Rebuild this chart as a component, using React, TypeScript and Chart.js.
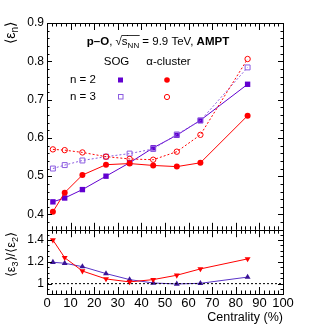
import React, { useEffect, useRef } from "react";
import { Chart, registerables } from "chart.js";
Chart.register(...registerables);

const centrality = [2.5, 7.5, 15, 25, 35, 45, 55, 65, 85];
const sogN2 = [0.433, 0.443, 0.465, 0.5, 0.535, 0.574, 0.607, 0.646, 0.74];
const sogN3 = [0.52, 0.529, 0.541, 0.551, 0.559, 0.571, 0.609, 0.645, 0.784];
const alphaN2 = [0.407, 0.457, 0.503, 0.53, 0.533, 0.528, 0.525, 0.535, 0.658];
const alphaN3 = [0.57, 0.568, 0.562, 0.551, 0.545, 0.543, 0.564, 0.608, 0.806];
const ratioSOG = [1.196, 1.187, 1.156, 1.092, 1.037, 1.006, 0.997, 1.003, 1.06];
const ratioAlpha = [1.4, 1.238, 1.116, 1.043, 1.016, 1.037, 1.077, 1.135, 1.227];
const unityLine = [0, 100];
const xTickValues = [0, 10, 20, 30, 40, 50, 60, 70, 80, 90, 100];
const topYTickValues = [0.4, 0.5, 0.6, 0.7, 0.8, 0.9];
const bottomYTickValues = [1, 1.2, 1.4];

const FAMILY = "'Liberation Sans', Arial, Helvetica, sans-serif";
const PURPLE = "#6200d0";
const PURPLE_OPEN = "#8c5ce0";
const RED = "#ff0000";
const NAVY = "#3a1496";
const NAVY_LINE = "#5a34c8";

type Seg = { t: string; size: number; bold?: boolean; dy?: number; overline?: boolean };

function drawRich(ctx: CanvasRenderingContext2D, segs: Seg[], x: number, y: number, align: "left" | "right" | "center") {
  const widths = segs.map((s) => {
    ctx.font = `${s.bold ? "bold " : ""}${s.size}px ${FAMILY}`;
    return ctx.measureText(s.t).width;
  });
  const total = widths.reduce((a, b) => a + b, 0);
  let cx = align === "left" ? x : align === "right" ? x - total : x - total / 2;
  ctx.textAlign = "left";
  segs.forEach((s, i) => {
    ctx.font = `${s.bold ? "bold " : ""}${s.size}px ${FAMILY}`;
    ctx.fillText(s.t, cx, y + (s.dy || 0));
    if (s.overline) {
      ctx.save();
      ctx.lineWidth = 0.8;
      ctx.beginPath();
      ctx.moveTo(cx - 0.5, y - 9.5);
      ctx.lineTo(cx + widths[i] + 0.5, y - 9.5);
      ctx.stroke();
      ctx.restore();
    }
    cx += widths[i];
  });
}

function drawTicks(chart: any, cfg: { yMinor: number; yMajor: number; xMajorLen: number; xMinorLen: number; yMajorLen: number; yMinorLen: number }) {
  const ctx: CanvasRenderingContext2D = chart.ctx;
  const { left, right, top, bottom } = chart.chartArea;
  const xs = chart.scales.x;
  const ys = chart.scales.y;
  ctx.save();
  ctx.strokeStyle = "#000";
  ctx.lineWidth = 1;
  ctx.strokeRect(Math.round(left) + 0.5, Math.round(top) + 0.5, Math.round(right - left), Math.round(bottom - top));
  ctx.beginPath();
  for (let v = 0; v <= 100.001; v += 2) {
    const px = Math.round(xs.getPixelForValue(v)) + 0.5;
    const major = Math.abs(v / 10 - Math.round(v / 10)) < 1e-6;
    const len = major ? cfg.xMajorLen : cfg.xMinorLen;
    ctx.moveTo(px, top);
    ctx.lineTo(px, top + len);
    ctx.moveTo(px, bottom);
    ctx.lineTo(px, bottom - len);
  }
  const ymin = ys.min;
  const ymax = ys.max;
  const start = Math.ceil(ymin / cfg.yMinor - 1e-6) * cfg.yMinor;
  for (let v = start; v <= ymax + 1e-9; v += cfg.yMinor) {
    const py = Math.round(ys.getPixelForValue(v)) + 0.5;
    const r = v / cfg.yMajor;
    const major = Math.abs(r - Math.round(r)) < 1e-6;
    const len = major ? cfg.yMajorLen : cfg.yMinorLen;
    ctx.moveTo(left, py);
    ctx.lineTo(left + len, py);
    ctx.moveTo(right, py);
    ctx.lineTo(right - len, py);
  }
  ctx.stroke();
  ctx.restore();
}

const topPlugin = {
  id: "topDecor",
  afterDatasetsDraw(chart: any) {
    drawTicks(chart, { yMinor: 0.02, yMajor: 0.1, xMajorLen: 7, xMinorLen: 3.5, yMajorLen: 5, yMinorLen: 2.5 });
    const ctx: CanvasRenderingContext2D = chart.ctx;
    ctx.save();
    ctx.fillStyle = "#000";
    ctx.strokeStyle = "#000";
    ctx.textBaseline = "alphabetic";
    drawRich(
      ctx,
      [
        { t: "p\u2013O", size: 11.5, bold: true },
        { t: ", \u221A", size: 11.5 },
        { t: "s", size: 11.5, overline: true },
        { t: "NN", size: 8, dy: 2.5, overline: true },
        { t: " = 9.9 TeV, ", size: 11.5 },
        { t: "AMPT", size: 11.5, bold: true },
      ],
      158,
      45,
      "center"
    );
    ctx.textBaseline = "middle";
    ctx.font = `11.5px ${FAMILY}`;
    ctx.textAlign = "center";
    ctx.fillText("SOG", 116.5, 62);
    ctx.fillText("\u03B1-cluster", 168.5, 62);
    ctx.textAlign = "left";
    ctx.fillText("n = 2", 70, 80);
    ctx.fillText("n = 3", 70, 97);
    // legend markers
    ctx.fillStyle = PURPLE;
    ctx.fillRect(118, 77.5, 5, 5);
    ctx.strokeStyle = PURPLE_OPEN;
    ctx.lineWidth = 1;
    ctx.strokeRect(118.5, 94.5, 4.5, 4.5);
    ctx.fillStyle = RED;
    ctx.beginPath();
    ctx.arc(167, 80, 2.8, 0, Math.PI * 2);
    ctx.fill();
    ctx.strokeStyle = RED;
    ctx.beginPath();
    ctx.arc(167, 97, 2.6, 0, Math.PI * 2);
    ctx.stroke();
    // y title
    ctx.fillStyle = "#000";
    ctx.translate(15, 22);
    ctx.rotate(-Math.PI / 2);
    ctx.textBaseline = "alphabetic";
    drawRich(
      ctx,
      [
        { t: "\u27E8\u03B5", size: 14 },
        { t: "n", size: 10, dy: 3 },
        { t: "\u27E9", size: 14 },
      ],
      0,
      0,
      "right"
    );
    ctx.restore();
  },
};

const bottomPlugin = {
  id: "bottomDecor",
  afterDatasetsDraw(chart: any) {
    drawTicks(chart, { yMinor: 0.05, yMajor: 0.2, xMajorLen: 7, xMinorLen: 3.5, yMajorLen: 5, yMinorLen: 2.5 });
    const ctx: CanvasRenderingContext2D = chart.ctx;
    const { right, bottom } = chart.chartArea;
    ctx.save();
    ctx.fillStyle = "#000";
    ctx.textBaseline = "middle";
    ctx.textAlign = "right";
    ctx.font = `12.5px ${FAMILY}`;
    ctx.fillText("Centrality (%)", right, bottom + 24);
    ctx.translate(15, 232 - 220);
    ctx.rotate(-Math.PI / 2);
    ctx.textBaseline = "alphabetic";
    drawRich(
      ctx,
      [
        { t: "\u27E8\u03B5", size: 13 },
        { t: "3", size: 9, dy: 3 },
        { t: "\u27E9/\u27E8\u03B5", size: 13 },
        { t: "2", size: 9, dy: 3 },
        { t: "\u27E9", size: 13 },
      ],
      0,
      0,
      "right"
    );
    ctx.restore();
  },
};

function pts(ys: number[]) {
  return centrality.map((x, i) => ({ x, y: ys[i] }));
}

function yScale(min: number, max: number, values: number[], fmt: (v: number) => string) {
  return {
    type: "linear" as const,
    min,
    max,
    afterBuildTicks: (s: any) => {
      s.ticks = values.map((v) => ({ value: v }));
    },
    afterFit: (s: any) => {
      s.width = 47;
    },
    grid: { display: false, drawTicks: false, tickLength: 0 },
    border: { display: false },
    ticks: {
      color: "#000",
      padding: 3,
      font: { family: FAMILY, size: 12 },
      callback: (v: any) => fmt(Number(v)),
    },
  };
}

export default function App() {
  const topRef = useRef<HTMLCanvasElement>(null);
  const botRef = useRef<HTMLCanvasElement>(null);

  useEffect(() => {
    document.body.style.margin = "0";
    const common = {
      type: "scatter" as const,
    };
    const topChart = new Chart(topRef.current!, {
      ...common,
      data: {
        datasets: [
          {
            data: pts(alphaN3),
            showLine: true,
            borderColor: RED,
            borderWidth: 1,
            borderDash: [2, 2],
            pointStyle: "circle",
            pointRadius: 2.7,
            pointBorderWidth: 1,
            pointBorderColor: RED,
            pointBackgroundColor: "rgba(0,0,0,0)",
            clip: false,
          },
          {
            data: pts(sogN3),
            showLine: true,
            borderColor: PURPLE_OPEN,
            borderWidth: 1,
            borderDash: [2, 2],
            pointStyle: "rect",
            pointRadius: 3.5,
            pointBorderWidth: 1,
            pointBorderColor: PURPLE_OPEN,
            pointBackgroundColor: "rgba(0,0,0,0)",
            clip: false,
          },
          {
            data: pts(alphaN2),
            showLine: true,
            borderColor: RED,
            borderWidth: 1,
            pointStyle: "circle",
            pointRadius: 3,
            pointBorderWidth: 0,
            pointBackgroundColor: RED,
            clip: false,
          },
          {
            data: pts(sogN2),
            showLine: true,
            borderColor: PURPLE,
            borderWidth: 1,
            pointStyle: "rect",
            pointRadius: 3.8,
            pointBorderWidth: 0,
            pointBackgroundColor: PURPLE,
            clip: false,
          },
        ],
      },
      options: {
        animation: false,
        responsive: false,
        maintainAspectRatio: false,
        layout: { autoPadding: false, padding: { left: 0, right: 32, top: 23, bottom: 10 } },
        plugins: { legend: { display: false }, tooltip: { enabled: false } },
        scales: {
          x: { type: "linear", min: 0, max: 100, display: false },
          y: yScale(0.36, 0.9, topYTickValues, (v) => v.toFixed(1)),
        },
      },
      plugins: [topPlugin],
    } as any);

    const botChart = new Chart(botRef.current!, {
      ...common,
      data: {
        datasets: [
          {
            data: unityLine.map((x) => ({ x, y: 1 })),
            showLine: true,
            borderColor: "#000",
            borderWidth: 1,
            borderDash: [2, 2],
            pointRadius: 0,
            clip: false,
          },
          {
            data: pts(ratioAlpha),
            showLine: true,
            borderColor: RED,
            borderWidth: 1,
            pointStyle: "triangle",
            rotation: 180,
            pointRadius: 3.4,
            pointBorderWidth: 0,
            pointBackgroundColor: RED,
            clip: false,
          },
          {
            data: pts(ratioSOG),
            showLine: true,
            borderColor: NAVY_LINE,
            borderWidth: 1,
            pointStyle: "triangle",
            pointRadius: 3.4,
            pointBorderWidth: 0,
            pointBackgroundColor: NAVY,
            clip: false,
          },
        ],
      },
      options: {
        animation: false,
        responsive: false,
        maintainAspectRatio: false,
        layout: { autoPadding: false, padding: { left: 0, right: 32, top: 10, bottom: 0 } },
        plugins: { legend: { display: false }, tooltip: { enabled: false } },
        scales: {
          x: {
            type: "linear",
            min: 0,
            max: 100,
            afterBuildTicks: (s: any) => {
              s.ticks = xTickValues.map((v) => ({ value: v }));
            },
            afterFit: (s: any) => {
              s.height = 35;
            },
            grid: { display: false, drawTicks: false, tickLength: 0 },
            border: { display: false },
            ticks: {
              color: "#000",
              padding: 2,
              maxRotation: 0,
              autoSkip: false,
              font: { family: FAMILY, size: 13 },
              callback: (v: any) => String(v),
            },
          },
          y: yScale(0.905, 1.49, bottomYTickValues, (v) => (v === 1 ? "1" : v.toFixed(1))),
        },
      },
      plugins: [bottomPlugin],
    } as any);

    return () => {
      topChart.destroy();
      botChart.destroy();
    };
  }, []);

  return (
    <div style={{ position: "relative", width: 315, height: 329, background: "#fff" }}>
      <canvas ref={topRef} width={315} height={240} style={{ position: "absolute", left: 0, top: 0 }} />
      <canvas ref={botRef} width={315} height={109} style={{ position: "absolute", left: 0, top: 220 }} />
    </div>
  );
}
